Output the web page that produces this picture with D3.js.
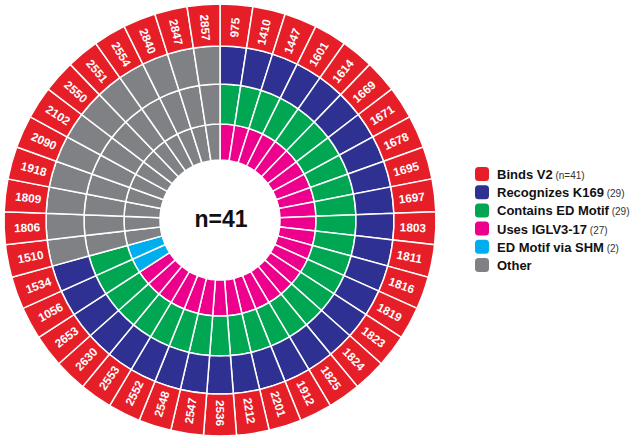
<!DOCTYPE html>
<html>
<head>
<meta charset="utf-8">
<script src="https://cdn.jsdelivr.net/npm/d3@7"></script>
<style>
  html, body { margin: 0; padding: 0; background: #fff; }
  svg { display: block; }
</style>
</head>
<body>
<svg id="chart" width="633" height="441"></svg>
<script>
// ---- data ----
const antibodies = ["975","1410","1447","1601","1614","1669","1671","1678","1695","1697",
  "1803","1811","1816","1819","1823","1824","1825","1912","2201","2212",
  "2536","2547","2548","2552","2553","2630","2653","1056","1534","1510",
  "1806","1809","1918","2090","2102","2550","2551","2554","2840","2847","2857"];

// outer ring: every antibody binds V2
const ringBindsV2 = antibodies.map(() => "V2");
// ring 2: recognizes K169 (29) or other
const ringK169 = ["K","K","K","K","K","K","K","K","K","K",
  "K","K","K","K","K","K","K","K","K","K",
  "K","K","K","K","K","K","K","K","K","O",
  "O","O","O","O","O","O","O","O","O","O","O"];
// ring 3: contains ED motif (29) or other
const ringED = ["ED","ED","ED","ED","ED","ED","ED","ED","ED","ED",
  "ED","ED","ED","ED","ED","ED","ED","ED","ED","ED",
  "ED","ED","ED","ED","ED","ED","ED","ED","ED","O",
  "O","O","O","O","O","O","O","O","O","O","O"];
// ring 4 (inner): uses IGLV3-17 (27), ED motif via SHM (2) or other
const ringGene = ["IG","IG","IG","IG","IG","IG","IG","IG","IG","IG",
  "IG","IG","IG","IG","IG","IG","IG","IG","IG","IG",
  "IG","IG","IG","IG","IG","IG","IG","SHM","SHM","O",
  "O","O","O","O","O","O","O","O","O","O","O"];

const legendKeys = ["V2","K","ED","IG","SHM","O"];
const legendNames = ["Binds V2","Recognizes K169","Contains ED Motif","Uses IGLV3-17","ED Motif via SHM","Other"];
const legendCounts = ["(n=41)","(29)","(29)","(27)","(2)",""];
const centerLabel = "n=41";

// ---- styles ----
const colors = {V2:"#E61E27", K:"#2E3192", ED:"#00A651", IG:"#EC008C", SHM:"#00AEEF", O:"#808184"};
const cx = 220, cy = 220;
const ringEdges = [60, 96, 136, 174, 216];   // inner -> outer
const rings = [ringGene, ringED, ringK169, ringBindsV2];

const svg = d3.select("#chart");
const g = svg.append("g").attr("transform", `translate(${cx},${cy})`);

const angle = d3.scaleBand().domain(antibodies).range([0, 2*Math.PI]).paddingInner(0).paddingOuter(0);

rings.forEach((ring, ri) => {
  const arc = d3.arc()
    .innerRadius(ringEdges[ri])
    .outerRadius(ringEdges[ri+1])
    .startAngle(d => angle(d.id))
    .endAngle(d => angle(d.id) + angle.bandwidth());
  g.append("g").selectAll("path")
    .data(antibodies.map((id, i) => ({id, cat: ring[i]})))
    .join("path")
    .attr("d", arc)
    .attr("fill", d => colors[d.cat])
    .attr("stroke", "#fff")
    .attr("stroke-width", 1.5);
});

// labels in outer ring
const labelR = 193;
g.append("g").selectAll("text")
  .data(antibodies)
  .join("text")
  .attr("transform", d => {
    const deg = (angle(d) + angle.bandwidth()/2) * 180 / Math.PI;
    const flip = deg > 180.001;
    return `rotate(${deg - 90}) translate(${labelR},0)` + (flip ? " rotate(180)" : "");
  })
  .attr("text-anchor", "middle")
  .attr("dy", "0.36em")
  .attr("fill", "#fff")
  .attr("font-family", "Liberation Sans, Arial, sans-serif")
  .attr("font-weight", "bold")
  .attr("font-size", 11.8)
  .text(d => d);

// center label
g.append("text")
  .attr("x", 1).attr("y", 7)
  .attr("text-anchor", "middle")
  .attr("font-family", "Liberation Sans, Arial, sans-serif")
  .attr("font-weight", "bold")
  .attr("font-size", 23)
  .attr("fill", "#111")
  .text(centerLabel);

// legend
const lg = svg.append("g").attr("transform", "translate(475,167)");
const rowH = 18.2;
legendKeys.forEach((k, i) => {
  const row = lg.append("g").attr("transform", `translate(0,${i*rowH})`);
  row.append("rect").attr("width", 14).attr("height", 14).attr("rx", 3.5)
    .attr("fill", colors[k]);
  const t = row.append("text").attr("x", 22).attr("y", 12)
    .attr("font-family", "Liberation Sans, Arial, sans-serif")
    .attr("fill", "#111");
  t.append("tspan").attr("font-weight", "bold").attr("font-size", 13).text(legendNames[i]);
  if (legendCounts[i]) {
    t.append("tspan").attr("font-size", 10).attr("fill", "#333").text(" " + legendCounts[i]);
  }
});
</script>
</body>
</html>
